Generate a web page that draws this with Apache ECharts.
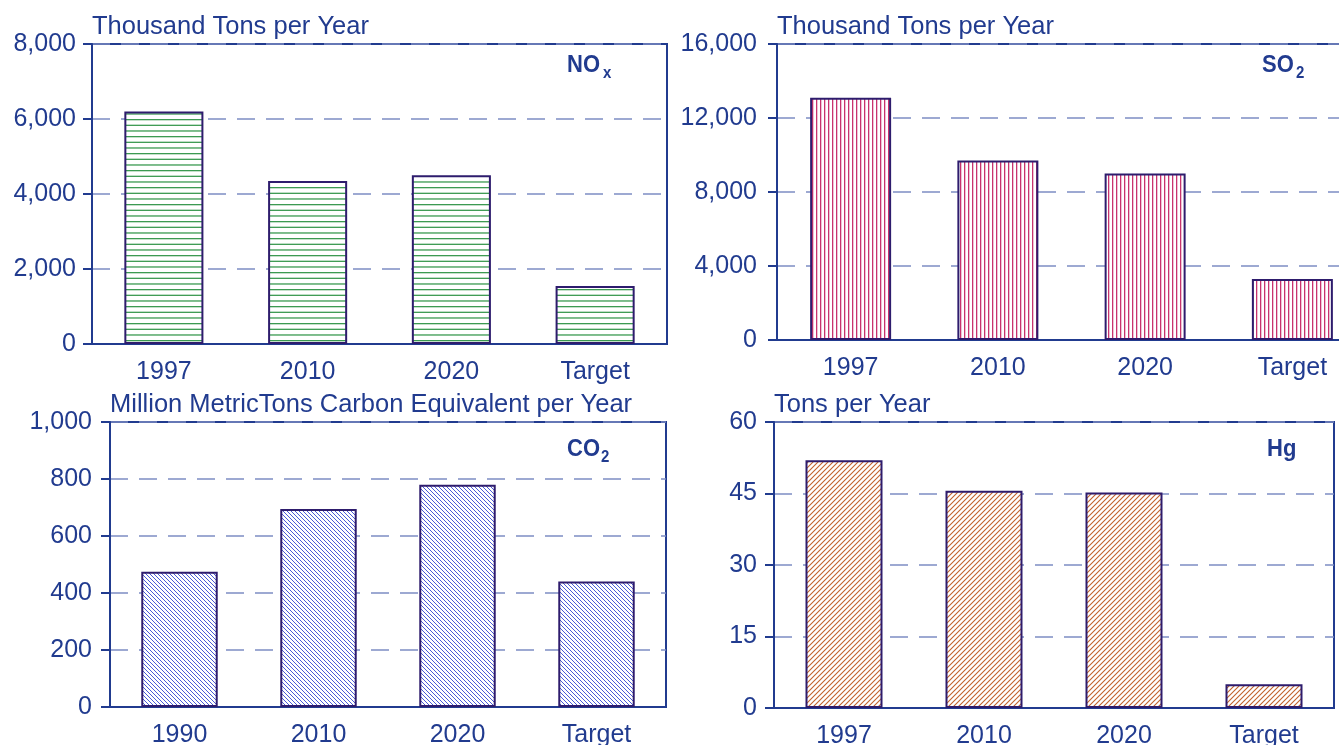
<!DOCTYPE html>
<html>
<head>
<meta charset="utf-8">
<script src="https://cdn.jsdelivr.net/npm/echarts@6/dist/echarts.min.js"></script>
<style>
  html, body { margin: 0; padding: 0; background: #ffffff; overflow: hidden; }
  /* the SO2 panel runs past the right edge of the page */
  #chart { width: 1400px; height: 745px; }
</style>
</head>
<body>
<div id="chart"></div>
<script>
// Emissions by pollutant: four small bar panels
const noxCats = ['1997', '2010', '2020', 'Target'];
const noxVals = [6200, 4350, 4500, 1550];

const so2Cats = ['1997', '2010', '2020', 'Target'];
const so2Vals = [13100, 9700, 9000, 3300];

const co2Cats = ['1990', '2010', '2020', 'Target'];
const co2Vals = [475, 695, 780, 440];

const hgCats = ['1997', '2010', '2020', 'Target'];
const hgVals = [52, 45.6, 45.2, 5];

const unitNames = [
  'Thousand Tons per Year',
  'Thousand Tons per Year',
  'Million MetricTons Carbon Equivalent per Year',
  'Tons per Year'
];
const yMax = [8000, 16000, 1000, 60];
const yStep = [2000, 4000, 200, 15];

const NAVY = '#213b8f';
const BORDER = '#2e1c6d';
const GRIDLINE = '#7d8dc4';
const FONT = '"Liberation Sans", Arial, sans-serif';

// Small repeating tiles used as hatch fills
function makeTile(w, h, draw) {
  const c = document.createElement('canvas');
  c.width = w; c.height = h;
  const g = c.getContext('2d');
  g.fillStyle = '#ffffff';
  g.fillRect(0, 0, w, h);
  draw(g);
  return { image: c, repeat: 'repeat' };
}

const hatchHoriz = makeTile(4, 17, g => {
  g.fillStyle = '#3c9a52';
  [0, 5.67, 11.33].forEach(y => g.fillRect(0, y, 4, 1.3));
});
const hatchVert = makeTile(4, 4, g => {
  g.fillStyle = '#c8336e';
  g.fillRect(0, 0, 1.3, 4);
});
const hatchBack = makeTile(4, 4, g => {
  g.strokeStyle = '#4b5bd6';
  g.lineWidth = 1;
  g.beginPath();
  g.moveTo(-1, -1); g.lineTo(5, 5);
  g.moveTo(-1, 3); g.lineTo(1, 5);
  g.moveTo(3, -1); g.lineTo(5, 1);
  g.stroke();
});
const hatchFwd = makeTile(5, 5, g => {
  g.strokeStyle = '#c2622c';
  g.lineWidth = 1.1;
  g.beginPath();
  g.moveTo(-1, 6); g.lineTo(6, -1);
  g.moveTo(-1, 1); g.lineTo(1, -1);
  g.moveTo(4, 6); g.lineTo(6, 4);
  g.stroke();
});

const grids = [
  { left: 92, top: 44, width: 575, height: 300 },
  { left: 777, top: 44, width: 589, height: 296 },
  { left: 110, top: 422, width: 556, height: 285 },
  { left: 774, top: 422, width: 560, height: 286 }
];
const yLabelGap = [16, 20, 18, 17];

const cats = [noxCats, so2Cats, co2Cats, hgCats];
const vals = [noxVals, so2Vals, co2Vals, hgVals];
const fills = [hatchHoriz, hatchVert, hatchBack, hatchFwd];

const option = {
  animation: false,
  backgroundColor: '#ffffff',
  textStyle: { fontFamily: FONT },
  grid: grids.map(g => Object.assign({
    show: true,
    outerBoundsMode: 'none',
    containLabel: false,
    borderColor: NAVY,
    borderWidth: 2,
    backgroundColor: 'transparent'
  }, g)),
  xAxis: cats.map((c, i) => ({
    type: 'category',
    gridIndex: i,
    data: c,
    axisLine: { show: true, lineStyle: { color: NAVY, width: 2 } },
    axisTick: { show: false },
    axisLabel: { color: NAVY, fontSize: 25, fontFamily: FONT, margin: 16 },
    splitLine: { show: false }
  })),
  yAxis: yMax.map((m, i) => ({
    type: 'value',
    gridIndex: i,
    min: 0,
    max: m,
    interval: yStep[i],
    name: unitNames[i],
    nameLocation: 'end',
    nameGap: 4,
    nameTextStyle: { color: NAVY, fontSize: 25.5, fontFamily: FONT, align: 'left' },
    axisLine: { show: true, lineStyle: { color: NAVY, width: 2 } },
    axisTick: { show: true, inside: false, length: 9, lineStyle: { color: NAVY, width: 2 } },
    axisLabel: {
      color: NAVY, fontSize: 25, fontFamily: FONT, margin: yLabelGap[i],
      padding: [8, 0, 0, 0],
      formatter: v => v.toLocaleString('en-US')
    },
    splitLine: { show: true, lineStyle: { color: GRIDLINE, width: 1.5, type: [18, 11] } }
  })),
  series: vals.map((v, i) => ({
    type: 'bar',
    xAxisIndex: i,
    yAxisIndex: i,
    data: v,
    barWidth: '55%',
    itemStyle: { color: fills[i], borderColor: BORDER, borderWidth: 2 },
    emphasis: { disabled: true }
  })),
  graphic: []
};

// Pollutant labels with subscripts
function chem(x, y, main, sub, subDx, subDy) {
  const els = [{
    type: 'text', x: x, y: y, originX: 0, originY: 0, scaleY: 1.12, z: 10,
    style: { text: main, fill: NAVY, fontSize: 22, fontWeight: 'bold', fontFamily: FONT,
             align: 'left', verticalAlign: 'middle' }
  }];
  if (sub) {
    els.push({
      type: 'text', x: x + subDx, y: y + subDy, originX: 0, originY: 0, scaleY: 1.12, z: 10,
      style: { text: sub, fill: NAVY, fontSize: 15, fontWeight: 'bold', fontFamily: FONT,
               align: 'left', verticalAlign: 'middle' }
    });
  }
  return els;
}
option.graphic = [].concat(
  chem(567, 65, 'NO', 'x', 36, 8),
  chem(1262, 65, 'SO', '2', 34, 8),
  chem(567, 449, 'CO', '2', 34, 8),
  chem(1267, 449, 'Hg', null)
);

const chart = echarts.init(document.getElementById('chart'), null, { renderer: 'canvas' });
chart.setOption(option);
</script>
</body>
</html>
